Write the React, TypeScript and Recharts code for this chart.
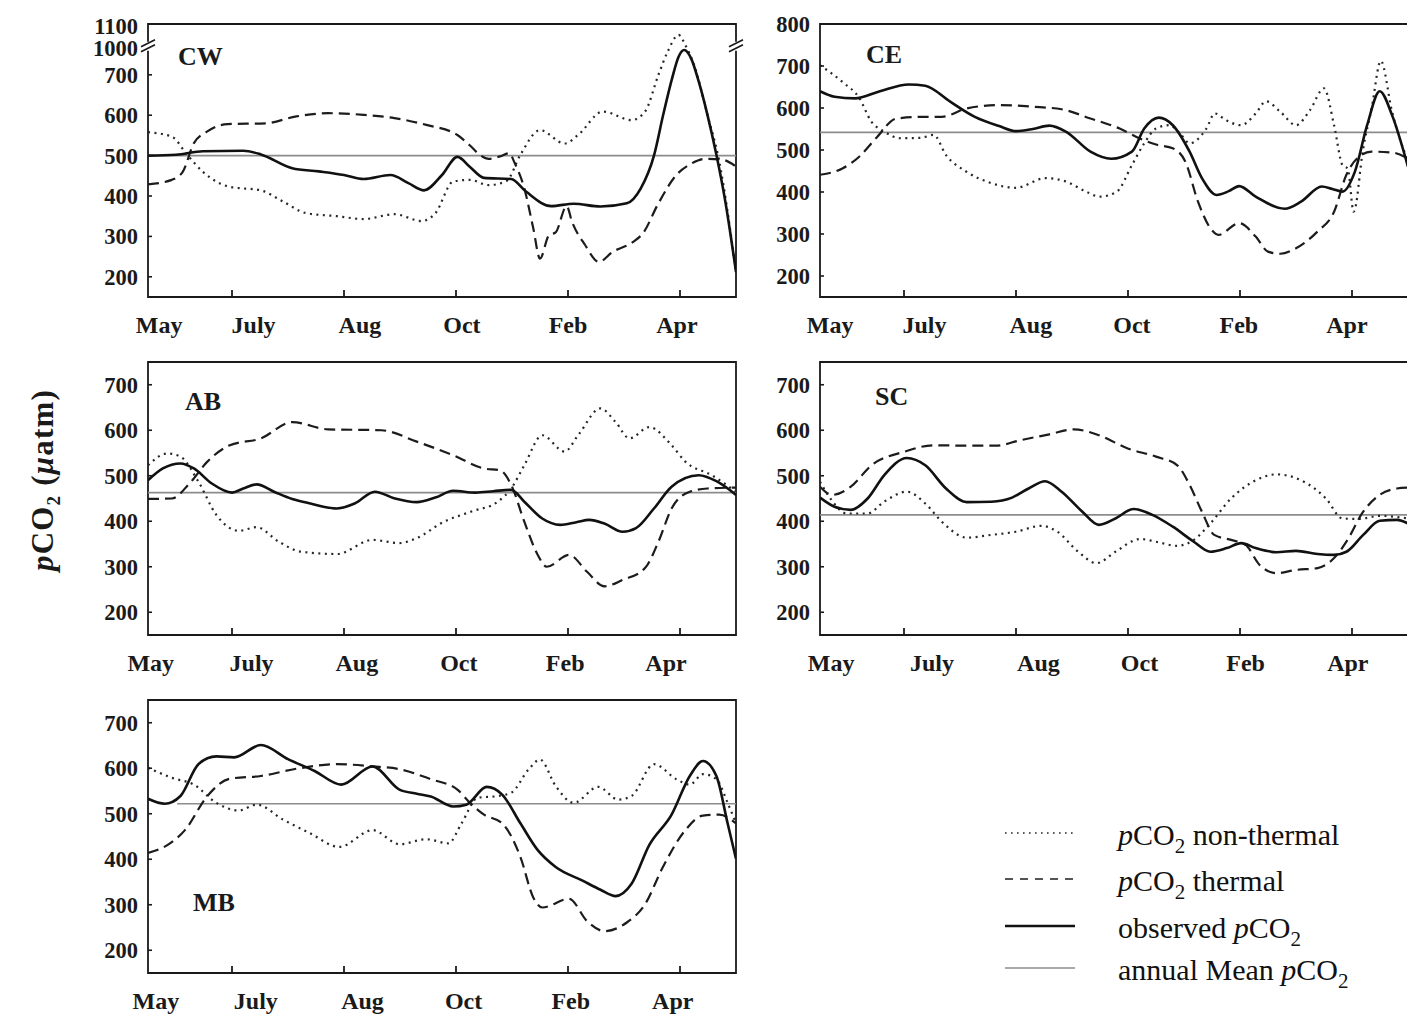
import React from 'react';
import { LineChart, Line, XAxis, YAxis, ReferenceArea, Legend } from 'recharts';

type Pt = [number, number];

// ---------- shared axis definitions ----------
// t runs over the survey period, one unit = one step of the sampling index
const T_DOMAIN: [number, number] = [0, 21];
const tickMarks = [3, 7, 11, 15, 19];
const monthLabels = ['May', 'July', 'Aug', 'Oct', 'Feb', 'Apr'];

// ---------- CW ----------
const cwObserved: Pt[] = [
  [0, 500], [1.0, 502], [1.96, 511], [3.4, 512], [4.03, 503], [5.15, 469], [6.1, 461], [7.0, 452],
  [7.7, 442], [8.66, 452], [9.3, 432], [9.86, 414], [10.5, 452], [11.05, 497], [11.5, 472], [12.0, 445],
  [12.97, 442], [13.5, 411], [14.4, 375], [15.2, 381], [16.16, 374], [17.1, 382], [17.6, 419], [18.07, 500],
  [18.4, 601], [18.72, 692], [18.95, 901], [19.15, 975], [19.4, 880], [19.67, 683], [19.98, 601], [20.3, 502],
  [20.62, 386], [21, 212],
];
const cwThermal: Pt[] = [
  [0, 429], [0.85, 440], [1.24, 460], [1.64, 531], [2.12, 560], [2.84, 578], [4.2, 580], [5.3, 597],
  [6.43, 605], [7.7, 601], [8.8, 593], [9.94, 576], [11.05, 551], [11.5, 525], [11.85, 502], [12.17, 492],
  [12.57, 498], [12.9, 506], [13.1, 481], [13.44, 419], [13.76, 320], [14.0, 245], [14.32, 303], [14.56, 310],
  [14.95, 375], [15.15, 335], [15.6, 280], [16.1, 237], [16.6, 262], [17.3, 285], [17.7, 310], [18.2, 378],
  [18.87, 452], [19.4, 480], [19.9, 492], [20.5, 490], [21, 473],
];
const cwNonThermal: Pt[] = [
  [0, 558], [0.85, 547], [1.4, 502], [1.96, 460], [2.9, 423], [4.03, 414], [4.83, 386], [5.63, 358],
  [6.75, 350], [7.7, 343], [8.8, 355], [9.78, 338], [10.26, 357], [10.9, 436], [11.5, 440], [12.17, 427],
  [12.8, 437], [13.3, 502], [14.0, 563], [14.88, 530], [15.36, 551], [16.24, 609], [17.27, 588], [17.75, 609],
  [18.23, 700], [18.55, 950], [18.95, 1060], [19.2, 1010], [19.5, 812], [19.98, 601], [20.38, 493], [21, 212],
];
const cwMean = 500;
const cwYTicks = [200, 300, 400, 500, 600, 700, 1000, 1100];

// ---------- CE ----------
const ceObserved: Pt[] = [
  [0, 640], [0.52, 627], [1.25, 623], [2.14, 640], [3.17, 656], [3.76, 653], [4.65, 615], [5.53, 579],
  [6.4, 557], [7.0, 545], [7.6, 550], [8.19, 558], [8.78, 544], [9.66, 496], [10.4, 479], [11.14, 496],
  [11.58, 551], [12.1, 577], [12.6, 559], [13.2, 496], [13.64, 433], [14.16, 393], [14.6, 402], [14.97, 414],
  [15.56, 389], [16.6, 360], [17.18, 377], [17.92, 413], [18.3, 407], [18.66, 401], [19.1, 448], [19.54, 559],
  [19.99, 640], [20.43, 583], [21, 460],
];
const ceThermal: Pt[] = [
  [0, 441], [0.8, 456], [1.4, 484], [2.0, 528], [2.73, 575], [3.76, 579], [4.35, 579], [5.24, 599],
  [6.4, 607], [7.6, 603], [8.63, 597], [9.66, 575], [10.7, 551], [11.4, 528], [12.0, 513], [12.6, 504],
  [13.05, 472], [13.5, 377], [13.94, 314], [14.23, 298], [14.97, 326], [15.56, 294], [16.0, 258], [16.44, 253],
  [17.0, 266], [17.77, 306], [18.36, 353], [18.8, 441], [19.25, 484], [19.7, 496], [20.43, 494], [21, 480],
];
const ceNonThermal: Pt[] = [
  [0, 702], [0.8, 662], [1.4, 624], [1.84, 567], [2.29, 544], [2.88, 528], [3.6, 529], [4.06, 536],
  [4.5, 488], [5.24, 448], [6.12, 421], [7.0, 410], [8.04, 433], [8.78, 425], [9.5, 401], [10.0, 389],
  [10.6, 401], [11.14, 464], [11.58, 516], [12.0, 551], [12.46, 559], [12.9, 536], [13.2, 516], [13.8, 551],
  [14.1, 587], [14.5, 571], [15.04, 559], [15.56, 587], [15.93, 616], [16.44, 591], [17.0, 559], [17.5, 595],
  [18.0, 647], [18.36, 559], [18.66, 464], [18.85, 455], [19.06, 353], [19.4, 504], [19.7, 599], [20.03, 712],
  [20.43, 591], [21, 472],
];
const ceMean = 542;
const ceYTicks = [200, 300, 400, 500, 600, 700, 800];

// ---------- AB ----------
const abObserved: Pt[] = [
  [0, 490], [0.53, 516], [1.16, 527], [1.64, 516], [2.28, 483], [3.0, 463], [3.4, 472], [3.88, 481],
  [4.5, 465], [5.15, 449], [5.8, 439], [6.75, 428], [7.38, 439], [8.1, 465], [8.82, 450], [9.6, 442],
  [10.26, 452], [10.9, 467], [11.7, 463], [12.33, 466], [12.97, 469], [13.44, 443], [14.08, 406], [14.72, 392],
  [15.3, 398], [15.76, 403], [16.3, 395], [16.95, 377], [17.43, 385], [18.07, 428], [18.7, 476], [19.67, 501],
  [20.3, 488], [21, 458],
];
const abThermal: Pt[] = [
  [0, 449], [0.85, 450], [1.48, 483], [2.12, 531], [2.92, 567], [4.03, 582], [5.15, 618], [6.43, 602],
  [8.34, 600], [9.6, 575], [10.9, 545], [12.0, 516], [12.57, 512], [12.97, 480], [13.44, 399], [13.92, 326],
  [14.24, 300], [15.04, 326], [15.68, 289], [16.3, 257], [16.95, 271], [17.75, 297], [18.23, 355], [18.7, 428],
  [19.35, 465], [19.98, 472], [21, 474],
];
const abNonThermal: Pt[] = [
  [0, 523], [0.69, 549], [1.16, 542], [1.8, 487], [2.44, 414], [3.24, 379], [3.88, 387], [4.67, 355],
  [5.47, 333], [6.75, 328], [8.02, 359], [8.98, 352], [9.6, 363], [10.57, 399], [11.53, 421], [12.49, 443],
  [12.97, 472], [13.44, 523], [14.08, 589], [14.88, 553], [15.36, 589], [16.16, 648], [16.7, 618], [17.2, 582],
  [17.9, 607], [18.7, 567], [19.19, 531], [20.14, 501], [21, 465],
];
const abMean = 463;

// ---------- SC ----------
const scObserved: Pt[] = [
  [0, 452], [0.52, 432], [1.1, 425], [1.7, 450], [2.29, 501], [3.1, 539], [3.76, 523], [4.5, 472],
  [5.24, 442], [6.12, 443], [6.86, 452], [7.45, 472], [8.04, 488], [8.63, 465], [9.37, 421], [9.96, 392],
  [10.55, 406], [11.2, 427], [11.87, 414], [12.6, 388], [13.35, 355], [13.94, 333], [14.53, 341], [15.04, 352],
  [15.56, 341], [16.3, 332], [17.0, 335], [17.77, 328], [18.36, 326], [18.8, 333], [19.4, 370], [19.99, 401],
  [20.6, 403], [21, 395],
];
const scThermal: Pt[] = [
  [0, 476], [0.44, 458], [1.1, 476], [1.84, 523], [3.02, 553], [4.06, 567], [5.24, 566], [6.27, 566],
  [7.15, 578], [8.19, 591], [9.07, 602], [9.96, 589], [10.99, 560], [12.0, 542], [12.76, 523], [13.2, 480],
  [13.64, 421], [14.08, 370], [14.68, 359], [15.2, 348], [15.7, 304], [16.3, 286], [17.0, 293], [17.77, 297],
  [18.36, 319], [18.8, 355], [19.4, 421], [19.99, 458], [20.6, 472], [21, 474],
];
const scNonThermal: Pt[] = [
  [0, 487], [0.37, 450], [0.96, 417], [1.7, 417], [2.29, 443], [3.1, 465], [3.76, 439], [4.35, 399],
  [5.24, 364], [6.12, 370], [7.0, 377], [7.9, 390], [8.48, 377], [9.22, 333], [9.88, 308], [10.55, 333],
  [11.43, 361], [12.0, 355], [12.76, 346], [13.35, 359], [13.94, 395], [14.68, 450], [15.56, 490], [16.3, 503],
  [17.18, 490], [18.07, 450], [18.66, 406], [19.25, 405], [19.99, 412], [21, 406],
];
const scMean = 414;

// ---------- MB ----------
const mbObserved: Pt[] = [
  [0, 533], [0.6, 522], [1.16, 539], [1.8, 609], [2.44, 626], [3.08, 624], [4.03, 651], [5.0, 620],
  [5.95, 594], [6.9, 564], [8.02, 604], [8.98, 553], [9.6, 544], [10.1, 538], [10.9, 516], [11.37, 520],
  [12.1, 559], [12.65, 542], [13.3, 479], [13.92, 420], [14.56, 383], [15.52, 353], [16.16, 333], [16.7, 319],
  [17.27, 346], [17.9, 431], [18.7, 498], [19.35, 583], [19.82, 616], [20.3, 583], [20.7, 479], [21, 401],
];
const mbThermal: Pt[] = [
  [0, 414], [0.69, 431], [1.32, 464], [2.12, 539], [2.92, 577], [4.03, 583], [5.31, 599], [6.75, 609],
  [8.02, 604], [8.98, 598], [10.1, 576], [11.05, 553], [11.5, 524], [12.0, 498], [12.65, 479], [13.3, 405],
  [13.76, 316], [14.08, 294], [15.04, 313], [15.68, 264], [16.3, 242], [17.1, 261], [17.75, 301], [18.39, 383],
  [19.19, 464], [19.82, 496], [20.4, 498], [21, 479],
];
const mbNonThermal: Pt[] = [
  [0, 601], [0.85, 579], [1.64, 564], [2.44, 524], [3.24, 507], [3.88, 520], [4.83, 487], [5.79, 457],
  [6.83, 427], [8.02, 464], [8.98, 433], [9.94, 444], [10.73, 435], [11.2, 479], [11.77, 535], [12.5, 539],
  [12.97, 546], [13.6, 598], [14.0, 619], [14.56, 561], [15.2, 524], [16.08, 559], [16.8, 531], [17.27, 539],
  [18.07, 609], [18.87, 576], [19.35, 564], [19.82, 587], [20.3, 576], [20.7, 524], [21, 479],
];
const mbMean = 522;

const lowYTicks = [200, 300, 400, 500, 600, 700];

// ---------- styling ----------
const SERIF = '"Liberation Serif", "Times New Roman", Times, serif';
const INK = '#1a1a1a';
const PLOT_W = 588;
const PLOT_H = 273;
const AXIS_W = 60;
const PAD_LEFT = 88;
const PAD_TOP = 24;

const STYLE = {
  observed: { stroke: '#111', strokeWidth: 2.6 },
  thermal: { stroke: '#1c1c1c', strokeWidth: 2.2, strokeDasharray: '11 6' },
  nonThermal: { stroke: '#262626', strokeWidth: 2.2, strokeDasharray: '2 4.5' },
  mean: { stroke: '#8c8c8c', strokeWidth: 1.6 },
};

// CW uses a broken axis: 700–1000 squeezed, above 1000 a compressed scale
const cwBreak = (v: number) =>
  v <= 700 ? v : v <= 1000 ? 700 + (v - 700) * (67 / 300) : 767 + (v - 1000) * 0.53;

interface PanelSpec {
  name: string;
  left: number;
  top: number;
  chartW: number;
  chartH: number;
  yRange: [number, number];
  yTicks: number[];
  scaleY?: (v: number) => number;
  breakAt?: number;
  observed: Pt[];
  thermal: Pt[];
  nonThermal: Pt[];
  mean: number;
  meanFrom: number;
  labelAt: number[];
  nameDx: number;
  nameDy: number;
}

const near = (a: number, b: number) => Math.abs(a - b) < 1e-6;

function BreakMark({ cx, cy }: { cx: number; cy: number }) {
  return (
    <g>
      <rect x={cx - 3} y={cy - 8} width={6} height={9} fill="#fff" />
      <line x1={cx - 7} y1={cy + 2} x2={cx + 7} y2={cy - 5} stroke={INK} strokeWidth={1.6} />
      <line x1={cx - 7} y1={cy - 3} x2={cx + 7} y2={cy - 10} stroke={INK} strokeWidth={1.6} />
    </g>
  );
}

function YTick(props: any) {
  const { x, y, payload, positions, labels, breakPos } = props;
  const v = payload.value;
  const i = positions.findIndex((p: number) => near(p, v));
  const text = i >= 0 ? String(labels[i]) : '';
  const isBreak = breakPos !== undefined && near(breakPos, v);
  const isUpper = breakPos !== undefined && v > breakPos;
  return (
    <g>
      {!isBreak && !isUpper && <line x1={x} x2={x + 4} y1={y} y2={y} stroke={INK} strokeWidth={1.6} />}
      {isBreak && <BreakMark cx={x} cy={y + 2} />}
      {isBreak && <BreakMark cx={x + PLOT_W} cy={y + 2} />}
      <text x={x - 10} y={y} dy={8} textAnchor="end" fontFamily={SERIF} fontWeight="bold" fontSize={22.5} fill={INK}>
        {text}
      </text>
    </g>
  );
}

function XTick(props: any) {
  const { x, y, payload, labelAt } = props;
  const v = payload.value;
  const isMark = tickMarks.some((m) => near(m, v));
  const li = labelAt.findIndex((p: number) => near(p, v));
  return (
    <g>
      {isMark && <line x1={x} x2={x} y1={y} y2={y - 7} stroke={INK} strokeWidth={1.8} />}
      {li >= 0 && (
        <text x={x} y={y + 36} textAnchor="middle" fontFamily={SERIF} fontWeight="bold" fontSize={24} fill={INK}>
          {monthLabels[li]}
        </text>
      )}
    </g>
  );
}

const legendRows = [
  { key: 'nonThermal', before: '', after: '\u00a0non-thermal' },
  { key: 'thermal', before: '', after: '\u00a0thermal' },
  { key: 'observed', before: 'observed\u00a0', after: '' },
  { key: 'mean', before: 'annual Mean\u00a0', after: '' },
];
const legendRowY = [23, 69, 116, 158];

function LegendBox() {
  return (
    <svg width={420} height={185} style={{ overflow: 'visible' }}>
      {legendRows.map((r, i) => {
        const s: any = (STYLE as any)[r.key];
        const y = legendRowY[i];
        const lw = r.key === 'observed' ? 2.6 : r.key === 'mean' ? 1.4 : 1.6;
        return (
          <g key={r.key}>
            <line x1={10} x2={80} y1={y} y2={y} stroke={s.stroke} strokeWidth={lw}
              strokeDasharray={r.key === 'thermal' ? '8 7' : r.key === 'nonThermal' ? '1.6 4.4' : undefined} />
            <text x={123} y={y + 12} fontFamily={SERIF} fontSize={30} fill="#111">
              {r.before && <tspan>{r.before}</tspan>}
              <tspan fontStyle="italic">p</tspan>
              <tspan>CO</tspan>
              <tspan fontSize={21} dy={8}>2</tspan>
              {r.after && <tspan dy={-8}>{r.after}</tspan>}
            </text>
          </g>
        );
      })}
    </svg>
  );
}

function Panel({ spec, extra, legend }: { spec: PanelSpec; extra?: React.ReactNode; legend?: boolean }) {
  const f = spec.scaleY ?? ((v: number) => v);
  const rows = (pts: Pt[]) => pts.map(([t, v]) => ({ t, v: f(v) }));
  const yPos = spec.yTicks.map(f);
  const yDomain: [number, number] = [f(spec.yRange[0]), f(spec.yRange[1])];
  const xTicks = Array.from(new Set([...tickMarks, ...spec.labelAt])).sort((a, b) => a - b);
  const meanRows = rows([[spec.meanFrom, spec.mean], [T_DOMAIN[1], spec.mean]]);
  const right = spec.chartW - PAD_LEFT - AXIS_W - PLOT_W;
  const xAxisH = spec.chartH - PAD_TOP - PLOT_H;
  const breakPos = spec.breakAt !== undefined ? f(spec.breakAt) : undefined;
  return (
    <div style={{ position: 'absolute', left: spec.left - PAD_LEFT - AXIS_W, top: spec.top - PAD_TOP }}>
      <LineChart width={spec.chartW} height={spec.chartH} margin={{ top: PAD_TOP, left: PAD_LEFT, right, bottom: 0 }}>
        <XAxis type="number" dataKey="t" domain={T_DOMAIN} ticks={xTicks} interval={0} height={xAxisH}
          tickSize={0} tickMargin={0} axisLine={false} tickLine={false} allowDataOverflow
          tick={(p: any) => <XTick {...p} labelAt={spec.labelAt} />} />
        <YAxis type="number" domain={yDomain} ticks={yPos} interval={0} width={AXIS_W}
          tickSize={0} tickMargin={0} axisLine={false} tickLine={false} allowDataOverflow
          tick={(p: any) => <YTick {...p} positions={yPos} labels={spec.yTicks} breakPos={breakPos} />} />
        <ReferenceArea x1={T_DOMAIN[0]} x2={T_DOMAIN[1]} y1={yDomain[0]} y2={yDomain[1]}
          fill="none" fillOpacity={0} stroke={INK} strokeWidth={1.8} ifOverflow="visible" />
        <Line data={meanRows} dataKey="v" type="linear" dot={false} activeDot={false} isAnimationActive={false}
          {...STYLE.mean} name="annual Mean pCO2" />
        <Line data={rows(spec.nonThermal)} dataKey="v" type="monotone" dot={false} activeDot={false}
          isAnimationActive={false} {...STYLE.nonThermal} name="pCO2 non-thermal" />
        <Line data={rows(spec.thermal)} dataKey="v" type="monotone" dot={false} activeDot={false}
          isAnimationActive={false} {...STYLE.thermal} name="pCO2 thermal" />
        <Line data={rows(spec.observed)} dataKey="v" type="monotone" dot={false} activeDot={false}
          isAnimationActive={false} {...STYLE.observed} name="observed pCO2" />
        <text x={PAD_LEFT + AXIS_W + spec.nameDx} y={PAD_TOP + spec.nameDy} fontFamily={SERIF} fontWeight="bold"
          fontSize={26} fill={INK}>
          {spec.name}
        </text>
        {extra}
        {legend && (
          <Legend layout="vertical" align="center" verticalAlign="middle" content={() => <LegendBox />}
            wrapperStyle={{ position: 'absolute', left: 995, top: 134, width: 420, height: 185 }} />
        )}
      </LineChart>
    </div>
  );
}

const panels: Record<string, PanelSpec> = {
  CW: {
    name: 'CW', left: 148, top: 24, chartW: 760, chartH: 345, yRange: [150, 1111], yTicks: cwYTicks,
    scaleY: cwBreak, breakAt: 1000, observed: cwObserved, thermal: cwThermal, nonThermal: cwNonThermal,
    mean: cwMean, meanFrom: 0, labelAt: [0.4, 3.77, 7.57, 11.21, 15.0, 18.89], nameDx: 30, nameDy: 41,
  },
  CE: {
    name: 'CE', left: 820, top: 24, chartW: 760, chartH: 345, yRange: [150, 800], yTicks: ceYTicks,
    observed: ceObserved, thermal: ceThermal, nonThermal: ceNonThermal,
    mean: ceMean, meanFrom: 0, labelAt: [0.36, 3.73, 7.53, 11.14, 14.96, 18.82], nameDx: 46, nameDy: 39,
  },
  AB: {
    name: 'AB', left: 148, top: 362, chartW: 760, chartH: 345, yRange: [150, 750], yTicks: lowYTicks,
    observed: abObserved, thermal: abThermal, nonThermal: abNonThermal,
    mean: abMean, meanFrom: 0, labelAt: [0.1, 3.7, 7.46, 11.1, 14.9, 18.5], nameDx: 37, nameDy: 48,
  },
  SC: {
    name: 'SC', left: 820, top: 362, chartW: 760, chartH: 345, yRange: [150, 750], yTicks: lowYTicks,
    observed: scObserved, thermal: scThermal, nonThermal: scNonThermal,
    mean: scMean, meanFrom: 0, labelAt: [0.4, 4.0, 7.8, 11.41, 15.2, 18.85], nameDx: 55, nameDy: 43,
  },
  MB: {
    name: 'MB', left: 148, top: 700, chartW: 1407, chartH: 340, yRange: [150, 750], yTicks: lowYTicks,
    observed: mbObserved, thermal: mbThermal, nonThermal: mbNonThermal,
    mean: mbMean, meanFrom: 1.04, labelAt: [0.28, 3.85, 7.66, 11.27, 15.1, 18.74], nameDx: 45, nameDy: 211,
  },
};

// rotated y-axis title, placed in the AB panel's svg
const yTitle = (
  <text transform="rotate(-90 53 142)" x={53} y={142} textAnchor="middle" fontFamily={SERIF}
    fontWeight="bold" fontSize={31} letterSpacing={1.2} fill={INK}>
    <tspan fontStyle="italic">p</tspan>
    <tspan>CO</tspan>
    <tspan fontSize={19} dy={7}>2</tspan>
    <tspan dy={-7}>{'\u00a0('}</tspan>
    <tspan fontStyle="italic">{'\u03bc'}</tspan>
    <tspan>atm)</tspan>
  </text>
);

export default function App() {
  return (
    <div style={{ position: 'absolute', left: 0, top: 0, width: 1407, height: 1016, overflow: 'hidden',
      background: '#fff', fontFamily: SERIF }}>
      <Panel spec={panels.CW} />
      <Panel spec={panels.CE} />
      <Panel spec={panels.AB} extra={yTitle} />
      <Panel spec={panels.SC} />
      <Panel spec={panels.MB} legend />
    </div>
  );
}
